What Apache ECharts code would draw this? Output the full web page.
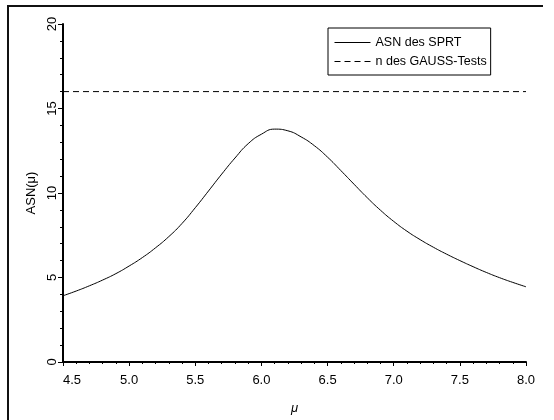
<!DOCTYPE html>
<html>
<head>
<meta charset="utf-8">
<script src="https://cdn.jsdelivr.net/npm/echarts@6/dist/echarts.min.js"></script>
<style>html,body{margin:0;padding:0;background:#fff}#c{width:554px;height:420px}</style>
</head>
<body>
<div id="c"></div>
<script>
const mu = [4.5,4.6,4.7,4.8,4.9,5.0,5.1,5.2,5.3,5.4,5.5,5.6,5.7,5.8,5.9,6.0,6.1,6.2,6.3,6.4,6.5,6.6,6.7,6.8,6.9,7.0,7.1,7.2,7.3,7.4,7.5,7.6,7.7,7.8,7.9,8.0];
const asnSPRT = [3.92,4.2,4.51,4.85,5.23,5.68,6.18,6.76,7.42,8.2,9.13,10.12,11.12,12.07,12.92,13.48,13.78,13.68,13.32,12.8,12.12,11.33,10.52,9.72,8.98,8.32,7.74,7.24,6.79,6.38,6.0,5.64,5.3,4.99,4.71,4.45];
const nGauss = 16;
const xTicks = {min: 4.5, max: 8.0, interval: 0.5};
const yTicks = {min: 0, max: 20, interval: 5};
const seriesNames = ['ASN des SPRT', 'n des GAUSS-Tests'];

const chart = echarts.init(document.getElementById('c'));
const font = 'Liberation Sans, Arial, sans-serif';
chart.setOption({
  animation: false,
  textStyle: {fontFamily: font},
  grid: {left: 63, right: 28, top: 24, bottom: 55},
  legend: {
    left: 328, top: 28, orient: 'vertical',
    padding: [8, 4, 7, 6],
    borderColor: '#000', borderWidth: 1,
    itemWidth: 36, itemHeight: 10, itemGap: 6,
    itemStyle: {color: 'rgba(0,0,0,0)', borderWidth: 0, opacity: 0},
    lineStyle: {width: 1, color: '#000'},
    textStyle: {fontFamily: font, fontSize: 12.5, color: '#000'},
    data: seriesNames
  },
  xAxis: {
    type: 'value', min: xTicks.min, max: xTicks.max, interval: xTicks.interval,
    name: 'μ', nameLocation: 'middle', nameGap: 40,
    nameTextStyle: {fontStyle: 'italic', fontSize: 13, color: '#000', fontFamily: font},
    axisLine: {show: true, onZero: false, lineStyle: {color: '#000', width: 2}},
    axisTick: {show: true, length: 4, lineStyle: {color: '#000', width: 1}},
    minorTick: {show: true, splitNumber: 5, length: 2, lineStyle: {color: '#000', width: 1}},
    splitLine: {show: false},
    axisLabel: {color: '#000', fontSize: 13, margin: 12, alignMinLabel: 'left',
      formatter: v => v.toFixed(1)}
  },
  yAxis: {
    type: 'value', min: yTicks.min, max: yTicks.max, interval: yTicks.interval,
    name: 'ASN(μ)', nameLocation: 'middle', nameGap: 23, nameRotate: 90,
    nameTextStyle: {fontSize: 13, color: '#000', fontFamily: font},
    axisLine: {show: true, lineStyle: {color: '#000', width: 2}},
    axisTick: {show: true, length: 5, lineStyle: {color: '#000', width: 1}},
    minorTick: {show: true, splitNumber: 5, length: 3, lineStyle: {color: '#000', width: 1}},
    splitLine: {show: false},
    axisLabel: {color: '#000', fontSize: 13, margin: 4, rotate: 90}
  },
  series: [
    {
      name: seriesNames[0], type: 'line', smooth: true, symbol: 'none',
      data: mu.map((m, i) => [m, asnSPRT[i]]),
      lineStyle: {color: '#000', width: 1}, itemStyle: {color: '#000'}
    },
    {
      name: seriesNames[1], type: 'line', symbol: 'none',
      data: [[xTicks.min, nGauss], [xTicks.max, nGauss]],
      lineStyle: {color: '#000', width: 1, type: [6, 4]}, itemStyle: {color: '#000'}
    }
  ],
  graphic: [
    {type: 'line', shape: {x1: 8, y1: 6, x2: 543, y2: 6}, style: {stroke: '#111', lineWidth: 2}},
    {type: 'line', shape: {x1: 8, y1: 5, x2: 8, y2: 420}, style: {stroke: '#111', lineWidth: 2}}
  ]
});
</script>
</body>
</html>
